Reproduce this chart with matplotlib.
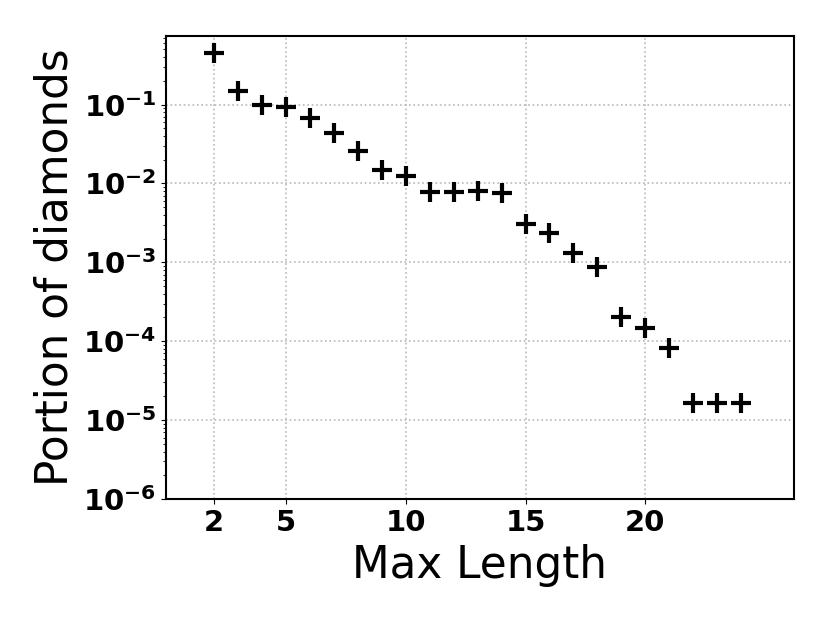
import matplotlib
matplotlib.use("Agg")
import matplotlib.pyplot as plt

max_length = [2, 3, 4, 5, 6, 7, 8, 9, 10, 11, 12, 13, 14, 15, 16, 17, 18, 19, 20, 21, 22, 23, 24]
portion = [0.45, 0.149, 0.099, 0.093, 0.067, 0.0435, 0.026, 0.0149, 0.0125,
           0.0079, 0.0079, 0.0081, 0.0076, 0.0031, 0.00236, 0.00131, 0.00088,
           0.000201, 0.000148, 0.0000824, 0.0000164, 0.0000164, 0.0000164]
xticks = [2, 5, 10, 15, 20]

fig = plt.figure(figsize=(8.3, 6.23), dpi=100)
ax = fig.add_axes([0.2, 0.199, 0.7566, 0.7437])
ax.plot(max_length, portion, linestyle='none', marker='+', color='black',
        markersize=14, markeredgewidth=3)
ax.set_yscale('log')
ax.set_xlim(0, 26.2)
ax.set_ylim(1e-6, 0.746)
ax.set_xticks(xticks)
ax.grid(True, which='major', linestyle=':', color='#b8b8b8', linewidth=1.2)
ax.set_axisbelow(True)
ax.tick_params(axis='both', which='major', labelsize=21)
for lbl in ax.get_xticklabels() + ax.get_yticklabels():
    lbl.set_fontweight('bold')
ax.set_xlabel('Max Length', fontsize=31.5, labelpad=5)
ax.set_ylabel('Portion of diamonds', fontsize=31.5, labelpad=5)
for s in ax.spines.values():
    s.set_linewidth(1.5)
fig.savefig('out.png', dpi=100)
